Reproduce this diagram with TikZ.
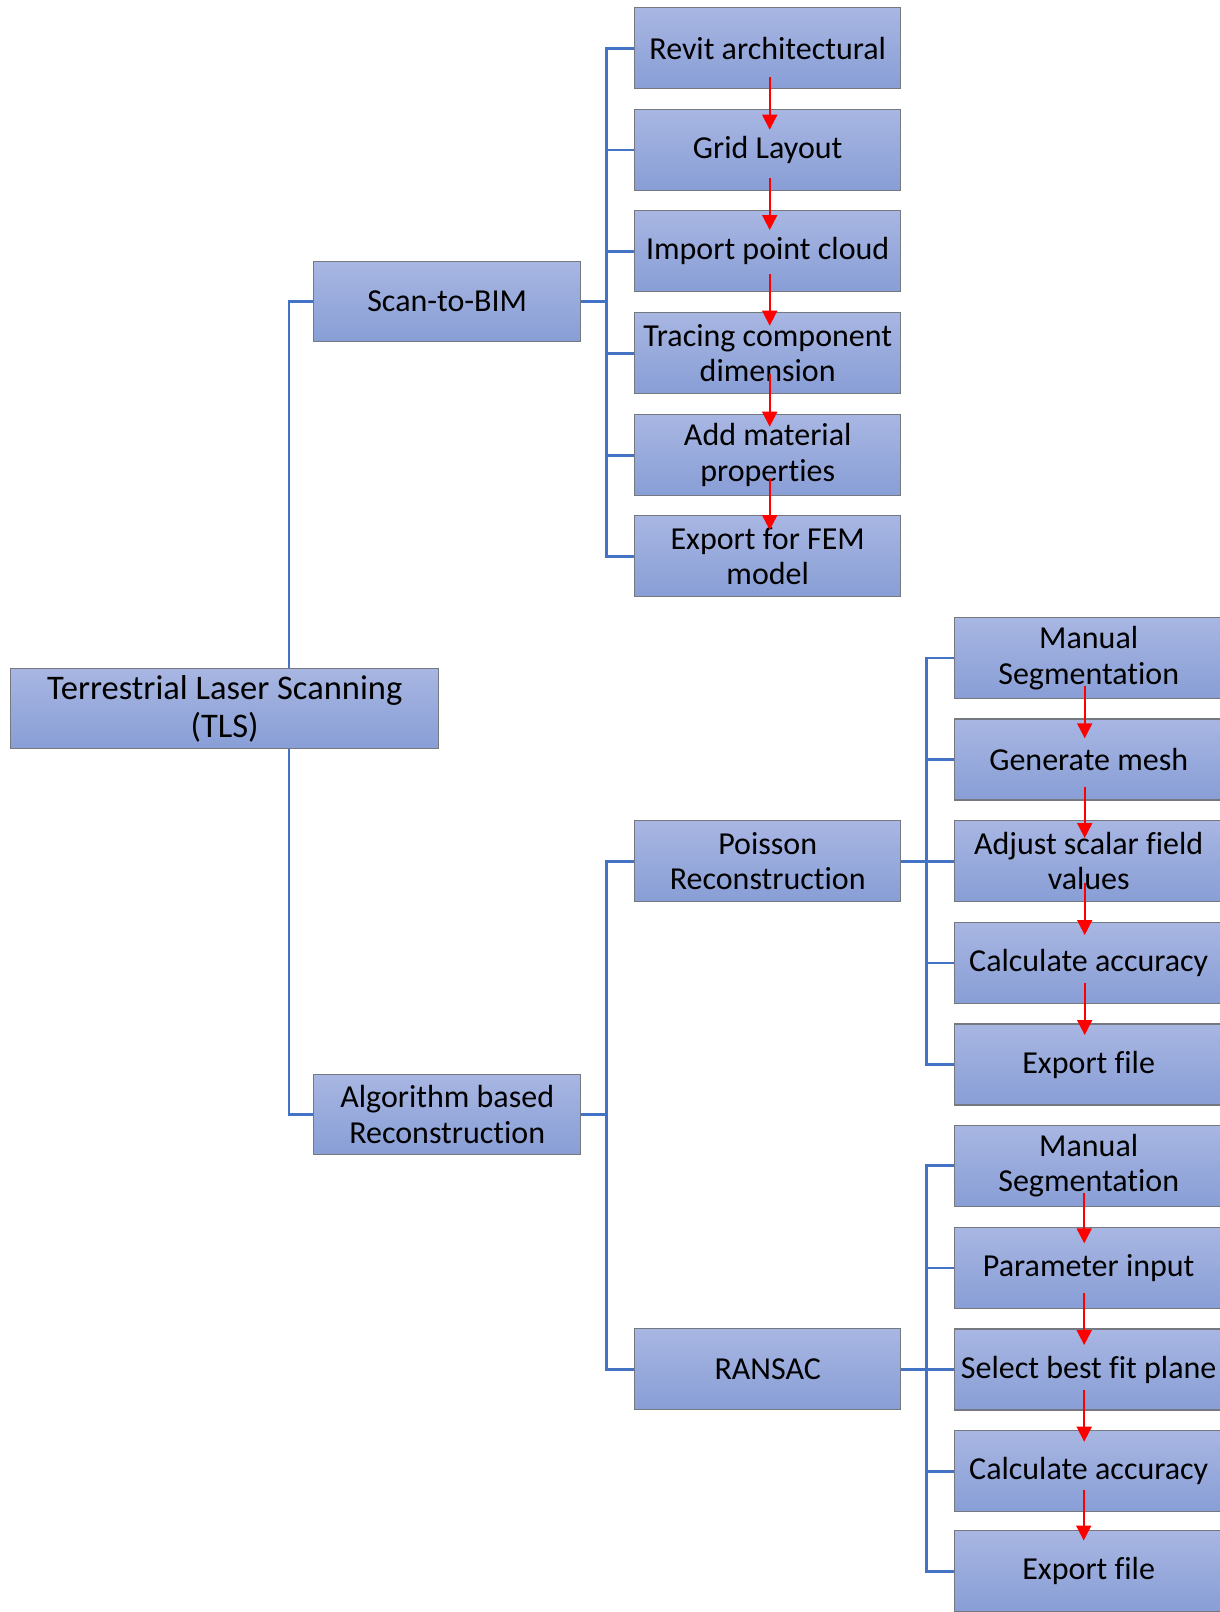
\documentclass[tikz,border=0pt]{standalone}
\usepackage{fontspec}
\setmainfont[Ligatures={NoCommon,NoRare}]{Carlito}
\usetikzlibrary{arrows.meta}
\pgfdeclarelayer{bg}
\pgfsetlayers{bg,main}
\definecolor{boxtop}{RGB}{168,182,226}
\definecolor{boxbot}{RGB}{136,158,214}
\definecolor{boxline}{RGB}{118,120,128}
\definecolor{connblue}{RGB}{68,114,196}
\tikzset{
  box/.style={draw=boxline, line width=1.4pt, top color=boxtop, bottom color=boxbot,
    anchor=north west, minimum width=266pt, minimum height=81pt, inner sep=0pt,
    align=center, text=black, font=\fontsize{32}{35.5}\selectfont},
  widebox/.style={box, minimum width=268pt},
  conn/.style={draw=connblue, line width=2.8pt},
  flow/.style={draw=red, line width=1.8pt, -{Triangle[length=15pt,width=15pt]}}
}
\begin{document}
\begin{tikzpicture}[x=1pt,y=-1pt]
\useasboundingbox (0,0) rectangle (1220,1612);

% level 0 and 1
\node[box, minimum width=428pt, minimum height=80pt, font=\fontsize{34.5}{38}\selectfont] (tls) at (10,668) {Terrestrial Laser Scanning\\(TLS)};
\node[box, minimum width=267pt, minimum height=80pt] (stb) at (313,261) {Scan-to-BIM};
\node[box, minimum width=267pt, minimum height=80pt] (abr) at (313,1074) {Algorithm based\\Reconstruction};

% Scan-to-BIM children
\node[box] (c1) at (634,7) {Revit architectural};
\node[box] (c2) at (634,108.7) {Grid Layout};
\node[box] (c3) at (634,210) {Import point cloud};
\node[box] (c4) at (634,312) {Tracing component\\dimension};
\node[box] (c5) at (634,414) {Add material\\properties};
\node[box] (c6) at (634,515) {Export for FEM\\model};

% Algorithm children
\node[box] (pois) at (634,820) {Poisson\\Reconstruction};
\node[box] (ran) at (634,1328) {RANSAC};

% Poisson children
\node[widebox] (p1) at (954,616.7) {Manual\\Segmentation};
\node[widebox] (p2) at (954,718.3) {Generate mesh};
\node[widebox] (p3) at (954,820) {Adjust scalar field\\values};
\node[widebox] (p4) at (954,921.7) {Calculate accuracy};
\node[widebox] (p5) at (954,1023.3) {Export file};

% RANSAC children
\node[widebox] (r1) at (954,1124.5) {Manual\\Segmentation};
\node[widebox] (r2) at (954,1226.7) {Parameter input};
\node[widebox] (r3) at (954,1328.3) {Select best fit plane};
\node[widebox] (r4) at (954,1430) {Calculate accuracy};
\node[widebox] (r5) at (954,1530) {Export file};

% tree connectors (behind boxes)
\begin{pgfonlayer}{bg}
\draw[conn] (stb.west) -- ++(-24,0) |- (abr.west);
\draw[conn] (stb.east) -- ++(27,0);
\draw[conn] (c1.west) -- ++(-27.3,0) |- (c6.west);
\foreach \n in {c2,c3,c4,c5} \draw[conn] (\n.west) -- ++(-27.3,0);
\draw[conn] (abr.east) -- ++(27,0);
\draw[conn] (pois.west) -- ++(-27.3,0) |- (ran.west);
\draw[conn] (pois.east) -- ++(27,0);
\draw[conn] (p1.west) -- ++(-27.3,0) |- (p5.west);
\foreach \n in {p2,p3,p4} \draw[conn] (\n.west) -- ++(-27.3,0);
\draw[conn] (ran.east) -- ++(27,0);
\draw[conn] (r1.west) -- ++(-27.3,0) |- (r5.west);
\foreach \n in {r2,r3,r4} \draw[conn] (\n.west) -- ++(-27.3,0);
\end{pgfonlayer}

% red flow arrows
\draw[flow] ([xshift=2pt,yshift=12pt]c1.south) -- ([xshift=2pt,yshift=-21pt]c2.north);
\draw[flow] ([xshift=2pt,yshift=13pt]c2.south) -- ([xshift=2pt,yshift=-20pt]c3.north);
\draw[flow] ([xshift=2pt,yshift=18pt]c3.south) -- ([xshift=2pt,yshift=-13.7pt]c4.north);
\draw[flow] ([xshift=2pt,yshift=20pt]c4.south) -- ([xshift=2pt,yshift=-12.7pt]c5.north);
\draw[flow] ([xshift=2pt,yshift=18.3pt]c5.south) -- ([xshift=2pt,yshift=-15pt]c6.north);

\draw[flow] ([xshift=-4pt,yshift=12.7pt]p1.south) -- ([xshift=-4pt,yshift=-20pt]p2.north);
\draw[flow] ([xshift=-4pt,yshift=13.3pt]p2.south) -- ([xshift=-4pt,yshift=-18pt]p3.north);
\draw[flow] ([xshift=-4pt,yshift=19.3pt]p3.south) -- ([xshift=-4pt,yshift=-13.3pt]p4.north);
\draw[flow] ([xshift=-4pt,yshift=21pt]p4.south) -- ([xshift=-4pt,yshift=-11.7pt]p5.north);

\draw[flow] ([xshift=-4.5pt,yshift=13.8pt]r1.south) -- ([xshift=-4.5pt,yshift=-16.6pt]r2.north);
\draw[flow] ([xshift=-4.5pt,yshift=16pt]r2.south) -- ([xshift=-4.5pt,yshift=-16.7pt]r3.north);
\draw[flow] ([xshift=-4.5pt,yshift=21pt]r3.south) -- ([xshift=-4.5pt,yshift=-11.7pt]r4.north);
\draw[flow] ([xshift=-5pt,yshift=22.7pt]r4.south) -- ([xshift=-5pt,yshift=-10.5pt]r5.north);
\end{tikzpicture}
\end{document}
